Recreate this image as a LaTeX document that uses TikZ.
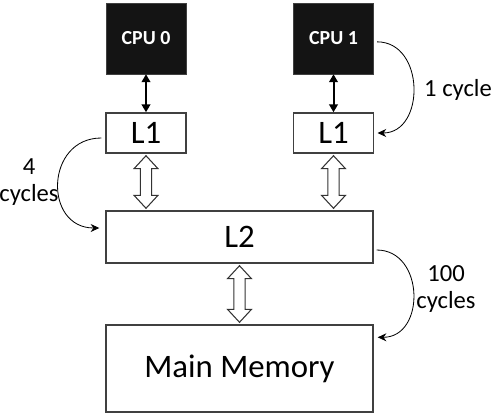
\documentclass[tikz,border=0pt]{standalone}
\usepackage{fontspec}
\setmainfont{Carlito}
\usetikzlibrary{arrows.meta,calc}

\begin{document}
\begin{tikzpicture}[x=0.3mm,y=-0.3mm]
  \tikzstyle{box}=[draw=black!75, line width=1.2pt, fill=white, inner sep=0pt, font=\fontsize{28}{30}\selectfont]
  \tikzstyle{cpu}=[draw=black!75, fill=black!92, text=white, inner sep=0pt, minimum width=2.4cm, minimum height=2.13cm, font=\fontsize{17}{19}\selectfont\bfseries]
  \tikzstyle{link}=[{Triangle[length=2.4mm,width=2.6mm]}-{Triangle[length=2.4mm,width=2.6mm]}, line width=0.6mm]
  \tikzstyle{lat}=[-{Stealth[length=2.6mm,width=2.4mm]}, line width=0.7pt]
  \tikzstyle{lbl}=[align=center, font=\fontsize{21}{23}\selectfont]
  \tikzstyle{fat}=[draw=black!80, line width=0.9pt, fill=white, to path={let \p1=(\tikztostart), \p2=(\tikztotarget) in
    (\x1,\y1) -- (\x1+3.6mm,\y1-3.9mm) -- (\x1+1.7mm,\y1-3.9mm) -- (\x1+1.7mm,\y2+3.9mm) -- (\x1+3.6mm,\y2+3.9mm)
    -- (\x1,\y2) -- (\x1-3.6mm,\y2+3.9mm) -- (\x1-1.7mm,\y2+3.9mm) -- (\x1-1.7mm,\y1-3.9mm) -- (\x1-3.6mm,\y1-3.9mm) -- cycle}]
  \useasboundingbox (0,0) rectangle (499,413);
  \foreach \i/\x in {0/146,1/333.5} {
    \node[cpu] (cpu\i) at (\x, 38.5) {CPU \i};
    \node[box, minimum width=2.4cm, minimum height=1.2cm] (l1\i) at (\x, 133) {L1};
    \draw[link] (cpu\i) -- (l1\i);
  }
  \node[box, minimum width=8.01cm, minimum height=1.56cm] (l2) at (239.5, 237) {L2};
  \node[box, minimum width=8.01cm, minimum height=2.61cm] (mem) at (239.5, 368.5) {Main Memory};
  % hollow buses
  \foreach \i in {0,1} \draw[fat] ([yshift=-0.6mm]l1\i.south) to ([yshift=0.6mm]l2.north -| l1\i.south);
  \draw[fat] ([yshift=-0.6mm]l2.south) to ([yshift=0.6mm]mem.north);
  % latencies
  \draw[lat] ([xshift=1mm,yshift=-1mm]cpu1.east) to[out=0, in=0, distance=1.44cm] ([xshift=1mm]l11.east);
  \node[lbl] (t1) at (458, 90) {1 cycle};
  \draw[lat] ([xshift=-1.2mm,yshift=-1.5mm]l10.west) to[out=180, in=180, distance=1.68cm] ([xshift=-1.8mm,yshift=2.7mm]l2.west);
  \node[lbl] (t4) at (29, 182) {4\\cycles};
  \draw[lat] ([xshift=0.9mm,yshift=-3.9mm]l2.east) to[out=0, in=0, distance=1.44cm] ([xshift=1.2mm,yshift=-3.9mm]mem.north east);
  \node[lbl] (t100) at (446, 289) {100\\cycles};
\end{tikzpicture}
\end{document}
